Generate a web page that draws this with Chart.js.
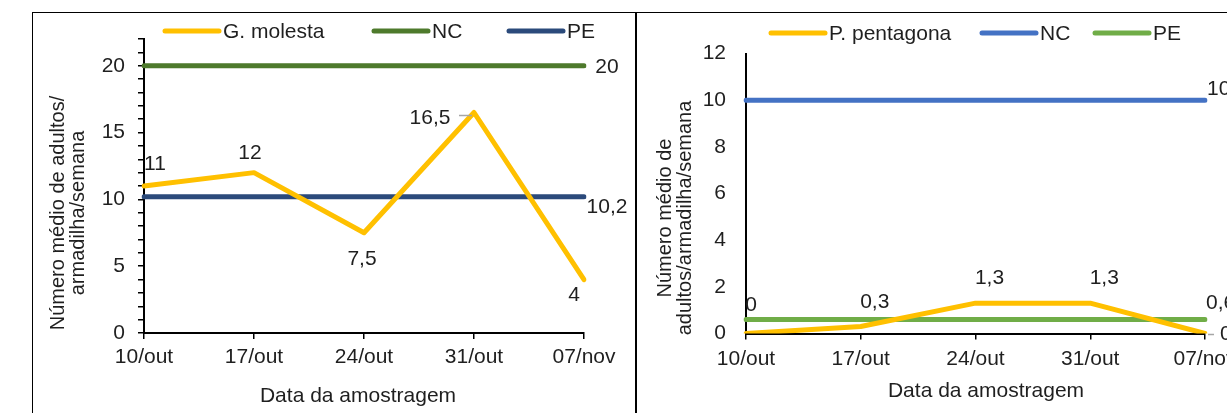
<!DOCTYPE html>
<html>
<head>
<meta charset="utf-8">
<script src="https://cdn.jsdelivr.net/npm/chart.js@4"></script>
<style>
html, body { margin: 0; padding: 0; background: #fff; overflow: hidden; width: 1227px; height: 413px; }
#wrap { position: relative; width: 1227px; height: 413px; overflow: hidden; }
.panel { position: absolute; top: 12px; height: 420px; border: 1.5px solid #000; border-bottom: none; box-sizing: border-box; }
canvas { position: absolute; top: 0; }
</style>
</head>
<body>
<div id="wrap">
  <div class="panel" style="left:32px; width:605px;"></div>
  <div class="panel" style="left:635px; width:620px;"></div>
  <canvas id="leftChart" width="636" height="413" style="left:0"></canvas>
  <canvas id="rightChart" width="660" height="413" style="left:636px"></canvas>
</div>
<script>
// data
const dates = ['10/out', '17/out', '24/out', '31/out', '07/nov'];

const molesta = [11, 12, 7.5, 16.5, 4];
const molestaNC = [20, 20, 20, 20, 20];
const molestaPE = [10.2, 10.2, 10.2, 10.2, 10.2];

const pentagona = [0, 0.3, 1.3, 1.3, 0];
const pentagonaNC = [10, 10, 10, 10, 10];
const pentagonaPE = [0.6, 0.6, 0.6, 0.6, 0.6];

const yTicksLeft = [0, 5, 10, 15, 20];

const FONT = '"Liberation Sans", Arial, sans-serif';
const TXT = '#1f1f1f';
Chart.defaults.font.family = FONT;
Chart.defaults.color = TXT;

function fmt(v) {
    return String(v).replace('.', ',');
}

// legend, axis titles and value labels, drawn on top of the chart
const overlay = {
    id: 'overlay',
    afterDatasetsDraw(chart, args, opts) {
        const ctx = chart.ctx;
        ctx.save();
        ctx.font = '21px ' + FONT;
        ctx.fillStyle = TXT;
        ctx.textBaseline = 'middle';

        // value labels
        chart.data.datasets.forEach((ds, i) => {
            const meta = chart.getDatasetMeta(i);
            (ds.valueLabels || []).forEach(([idx, dx, dy, align, leader]) => {
                const p = meta.data[idx];
                if (leader) {
                    ctx.strokeStyle = '#a6a6a6';
                    ctx.lineWidth = 1.5;
                    ctx.beginPath();
                    ctx.moveTo(p.x + leader[0], p.y + leader[1]);
                    ctx.lineTo(p.x + leader[2], p.y + leader[3]);
                    ctx.stroke();
                }
                ctx.textAlign = align || 'center';
                ctx.fillText(fmt(ds.data[idx]), p.x + dx, p.y + dy);
            });
        });

        // legend
        ctx.textAlign = 'left';
        ctx.lineCap = 'round';
        chart.data.datasets.forEach((ds, i) => {
            const x = opts.legendX[i], y = opts.legendY;
            ctx.strokeStyle = ds.borderColor;
            ctx.lineWidth = 5;
            ctx.beginPath();
            ctx.moveTo(x, y);
            ctx.lineTo(x + 54, y);
            ctx.stroke();
            ctx.fillText(ds.label, x + 58, y + 1);
        });

        // x title
        ctx.textAlign = 'center';
        ctx.fillText(opts.xTitle, opts.xTitlePos[0], opts.xTitlePos[1]);

        // y title (rotated)
        ctx.font = '20px ' + FONT;
        ctx.translate(opts.yTitlePos[0], opts.yTitlePos[1]);
        ctx.rotate(-Math.PI / 2);
        const n = opts.yTitle.length;
        opts.yTitle.forEach((t, k) => ctx.fillText(t, 0, (k - (n - 1) / 2) * 20));
        ctx.restore();
    }
};

function lineSet(label, data, color, valueLabels) {
    return {
        label: label,
        data: data,
        borderColor: color,
        backgroundColor: color,
        borderWidth: 5,
        borderCapStyle: 'round',
        borderJoinStyle: 'round',
        pointRadius: 0,
        tension: 0,
        fill: false,
        valueLabels: valueLabels
    };
}

// left: G. molesta
new Chart(document.getElementById('leftChart'), {
    type: 'line',
    data: {
        labels: dates,
        datasets: [
            lineSet('G. molesta', molesta, '#ffc000',
                [[0, 11, -22], [1, -4, -19], [2, -2, 26], [3, -44, 6, 'center', [-15, 3, -2, 3]], [4, -10, 16]]),
            lineSet('NC', molestaNC, '#4e7a2c', [[4, 23, 1]]),
            lineSet('PE', molestaPE, '#2b4a7b', [[4, 23, 11]])
        ]
    },
    plugins: [overlay],
    options: {
        responsive: false,
        animation: false,
        layout: { padding: { left: 0, top: 39, right: 52, bottom: 0 } },
        plugins: {
            legend: { display: false },
            tooltip: { enabled: false },
            overlay: {
                legendX: [165, 374, 509],
                legendY: 31,
                xTitle: 'Data da amostragem',
                xTitlePos: [358, 396],
                yTitle: ['Número médio de adultos/', 'armadilha/semana'],
                yTitlePos: [68, 213]
            }
        },
        scales: {
            x: {
                offset: false,
                grid: { drawOnChartArea: false, tickLength: 6, color: '#000', lineWidth: 1.5 },
                border: { color: '#000', width: 2 },
                ticks: { font: { size: 21 }, padding: 6, maxRotation: 0, autoSkip: false },
                afterFit(s) { s.height = 80; }
            },
            y: {
                min: 0,
                max: 22,
                grid: { drawOnChartArea: false, tickLength: 6, color: '#000', lineWidth: 1.5 },
                border: { color: '#000', width: 2 },
                ticks: {
                    stepSize: 1,
                    autoSkip: false,
                    padding: 13,
                    font: { size: 21 },
                    callback: v => yTicksLeft.includes(v) ? v : ''
                },
                afterFit(s) { s.width = 144; }
            }
        }
    }
});

// right: P. pentagona
new Chart(document.getElementById('rightChart'), {
    type: 'line',
    data: {
        labels: dates,
        datasets: [
            lineSet('P. pentagona', pentagona, '#ffc000',
                [[0, 5, -28], [1, 14, -24], [2, 14, -25], [3, 14, -25], [4, 15, 1, 'left', [3, 1, 9, 1]]]),
            lineSet('NC', pentagonaNC, '#4472c4', [[4, 2, -11, 'left']]),
            lineSet('PE', pentagonaPE, '#70ad47', [[4, 1, -16, 'left']])
        ]
    },
    plugins: [overlay],
    options: {
        responsive: false,
        animation: false,
        layout: { padding: { left: 0, top: 53.5, right: 91, bottom: 0 } },
        plugins: {
            legend: { display: false },
            tooltip: { enabled: false },
            overlay: {
                legendX: [135, 346, 459],
                legendY: 33,
                xTitle: 'Data da amostragem',
                xTitlePos: [350, 391],
                yTitle: ['Número médio de', 'adultos/armadilha/semana'],
                yTitlePos: [39, 218]
            }
        },
        scales: {
            x: {
                offset: false,
                grid: { drawOnChartArea: false, tickLength: 6, color: '#000', lineWidth: 1.5 },
                border: { color: '#000', width: 2 },
                ticks: { font: { size: 21 }, padding: 7, maxRotation: 0, autoSkip: false },
                afterFit(s) { s.height = 79.5; }
            },
            y: {
                min: 0,
                max: 12,
                grid: { display: false, drawTicks: false },
                border: { display: true, color: '#000', width: 2 },
                ticks: { stepSize: 2, padding: 20, font: { size: 21 } },
                afterFit(s) { s.width = 110; }
            }
        }
    }
});
</script>
</body>
</html>
